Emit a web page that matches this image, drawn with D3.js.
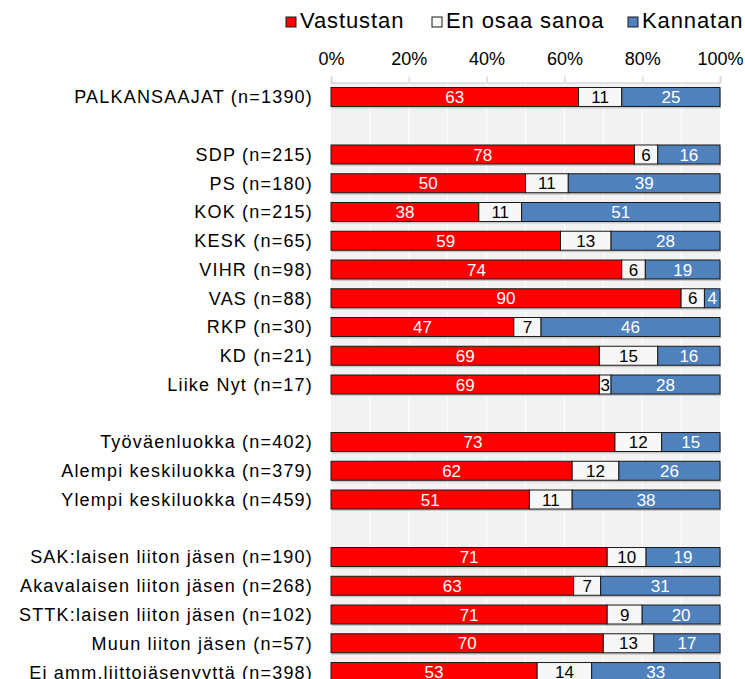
<!DOCTYPE html>
<html>
<head>
<meta charset="utf-8">
<script src="https://cdn.jsdelivr.net/npm/d3@7"></script>
<style>
  body { margin: 0; background: #fff; }
  svg text { font-family: "Liberation Sans", Arial, sans-serif; }
</style>
</head>
<body>
<div id="chart"></div>
<script>
// ========================================
// Data (empty label = gap row between groups)
// ========================================
const rows = [
  'PALKANSAAJAT (n=1390)', '',
  'SDP (n=215)', 'PS (n=180)', 'KOK (n=215)', 'KESK (n=65)', 'VIHR (n=98)',
  'VAS (n=88)', 'RKP (n=30)', 'KD (n=21)', 'Liike Nyt (n=17)', '',
  'Työväenluokka (n=402)', 'Alempi keskiluokka (n=379)', 'Ylempi keskiluokka (n=459)', '',
  'SAK:laisen liiton jäsen (n=190)', 'Akavalaisen liiton jäsen (n=268)',
  'STTK:laisen liiton jäsen (n=102)', 'Muun liiton jäsen (n=57)', 'Ei amm.liittojäsenyyttä (n=398)'
];
const vastustan = [63, null, 78, 50, 38, 59, 74, 90, 47, 69, 69, null, 73, 62, 51, null, 71, 63, 71, 70, 53];
const enOsaa    = [11, null,  6, 11, 11, 13,  6,  6,  7, 15,  3, null, 12, 12, 11, null, 10,  7,  9, 13, 14];
const kannatan  = [25, null, 16, 39, 51, 28, 19,  4, 46, 16, 28, null, 15, 26, 38, null, 19, 31, 20, 17, 33];

const seriesNames = ['Vastustan', 'En osaa sanoa', 'Kannatan'];
const seriesColors = ['#ff0000', '#f7f7f7', '#4f81bd'];
const textColors = ['#ffffff', '#000000', '#ffffff'];
const ticks = [0, 0.2, 0.4, 0.6, 0.8, 1];

// ========================================
// Dimensions
// ========================================
const width = 745, height = 679;
const x0 = 331, x1 = 720;       // plot area left / right
const yTop = 82.6, yBot = 686.4; // plot area top / bottom (last row runs off the page)

const svg = d3.select('#chart').append('svg')
  .attr('width', width)
  .attr('height', height);

const x = d3.scaleLinear().domain([0, 1]).range([x0, x1]);
const y = d3.scaleBand()
  .domain(d3.range(rows.length))
  .range([yTop, yBot])
  .paddingInner(0.34)
  .paddingOuter(0.17);

// plot background + gridlines
svg.append('rect')
  .attr('x', x0).attr('y', yTop)
  .attr('width', x1 - x0).attr('height', yBot - yTop)
  .attr('fill', '#f2f2f2');

svg.append('g')
  .selectAll('line')
  .data(d3.range(1, 10).map(d => d / 10))
  .join('line')
    .attr('x1', d => x(d)).attr('x2', d => x(d))
    .attr('y1', yTop).attr('y2', yBot)
    .attr('stroke', '#ffffff')
    .attr('stroke-width', 1);

// top axis
const axis = svg.append('g')
  .attr('transform', 'translate(0,' + yTop + ')')
  .call(d3.axisTop(x).tickValues(ticks).tickFormat(d3.format('.0%')).tickSize(6).tickPadding(12));
axis.select('.domain').attr('stroke', '#d9d9d9').attr('stroke-width', 1.5);
axis.selectAll('.tick line').attr('stroke', '#d9d9d9').attr('stroke-width', 1.5);
axis.selectAll('.tick text').attr('font-size', 18).attr('fill', '#000');

// ========================================
// Bars
// ========================================
const data = rows.map((label, i) => {
  if (!label) return null;
  const vals = [vastustan[i], enOsaa[i], kannatan[i]];
  const total = d3.sum(vals);   // 100% stacked: normalise to the row sum
  let cum = 0;
  return vals.map((v, k) => {
    const seg = { row: i, k: k, v: v, start: cum / total, end: (cum + v) / total };
    cum += v;
    return seg;
  });
}).filter(d => d);

const rowG = svg.append('g')
  .selectAll('g')
  .data(data)
  .join('g');

// subtle shadow under each bar
rowG.append('rect')
  .attr('x', x(0) + 1)
  .attr('y', d => y(d[0].row) + 2)
  .attr('width', x(1) - x(0))
  .attr('height', y.bandwidth())
  .attr('fill', '#c8c8c8');

rowG.selectAll('rect.seg')
  .data(d => d)
  .join('rect')
    .attr('class', 'seg')
    .attr('x', d => x(d.start))
    .attr('y', d => y(d.row))
    .attr('width', d => x(d.end) - x(d.start))
    .attr('height', y.bandwidth())
    .attr('fill', d => seriesColors[d.k])
    .attr('stroke', '#1a1a1a')
    .attr('stroke-width', 1);

rowG.selectAll('text')
  .data(d => d)
  .join('text')
    .attr('x', d => (x(d.start) + x(d.end)) / 2)
    .attr('y', d => y(d.row) + y.bandwidth() / 2)
    .attr('dy', '0.36em')
    .attr('text-anchor', 'middle')
    .attr('font-size', 17)
    .attr('fill', d => textColors[d.k])
    .text(d => d.v);

// category labels
svg.append('g')
  .selectAll('text')
  .data(rows.map((r, i) => ({ r, i })).filter(d => d.r))
  .join('text')
    .attr('x', 313)
    .attr('y', d => y(d.i) + y.bandwidth() / 2)
    .attr('dy', '0.36em')
    .attr('text-anchor', 'end')
    .attr('font-size', 18)
    .attr('letter-spacing', 1.2)
    .attr('fill', '#000')
    .text(d => d.r);

// ========================================
// Legend
// ========================================
const legendX = [286, 432, 628];
const legend = svg.append('g')
  .selectAll('g')
  .data(seriesNames)
  .join('g')
    .attr('transform', (d, i) => 'translate(' + legendX[i] + ',0)');

legend.append('rect')
  .attr('x', 0).attr('y', 17)
  .attr('width', 10).attr('height', 10)
  .attr('fill', (d, i) => seriesColors[i])
  .attr('stroke', '#1a1a1a')
  .attr('stroke-width', 1);

legend.append('text')
  .attr('x', 14).attr('y', 28)
  .attr('font-size', 22)
  .attr('letter-spacing', 0.9)
  .attr('fill', '#000')
  .text(d => d);
</script>
</body>
</html>
